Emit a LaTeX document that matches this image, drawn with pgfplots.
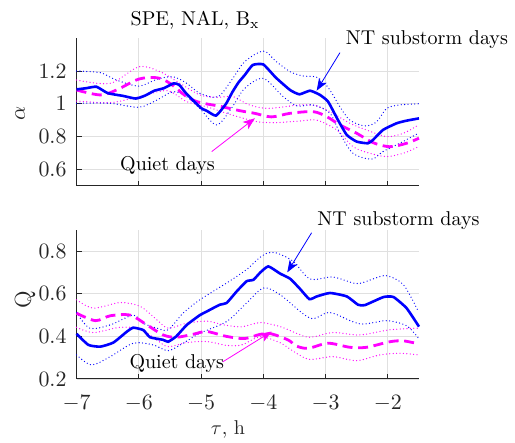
\documentclass[border=0pt]{standalone}
\usepackage{pgfplots}
\pgfplotsset{compat=1.18}
\usetikzlibrary{arrows.meta}
\definecolor{axgray}{gray}{0.15}
\definecolor{gridgray}{gray}{0.88}
\definecolor{mblue}{RGB}{0,0,255}
\definecolor{mmag}{RGB}{255,0,255}

\pgfplotstableread{
x y
-7.00 1.088
-6.85 1.095
-6.68 1.104
-6.50 1.065
-6.25 1.048
-6.05 1.032
-5.90 1.050
-5.75 1.080
-5.60 1.095
-5.44 1.125
-5.35 1.115
-5.25 1.068
-5.10 1.010
-5.00 0.974
-4.90 0.955
-4.76 0.928
-4.60 1.000
-4.50 1.070
-4.40 1.130
-4.30 1.175
-4.17 1.237
-4.00 1.240
-3.80 1.160
-3.57 1.084
-3.42 1.058
-3.25 1.080
-3.09 1.054
-2.96 1.013
-2.80 0.900
-2.66 0.810
-2.50 0.769
-2.32 0.759
-2.24 0.779
-2.08 0.840
-1.86 0.881
-1.70 0.897
-1.50 0.911
}\aNT
\pgfplotstableread{
x y
-7.00 1.200
-6.62 1.190
-6.36 1.145
-6.00 1.108
-5.71 1.150
-5.45 1.165
-5.23 1.125
-5.02 1.064
-4.73 1.043
-4.50 1.150
-4.30 1.257
-4.00 1.322
-3.80 1.260
-3.57 1.196
-3.36 1.170
-3.14 1.162
-2.96 1.100
-2.77 0.982
-2.61 0.900
-2.37 0.865
-2.18 0.890
-2.02 0.972
-1.81 0.993
-1.50 1.000
}\aNTup
\pgfplotstableread{
x y
-7.00 1.003
-6.46 1.003
-6.00 0.979
-5.71 1.023
-5.45 1.074
-5.23 1.043
-5.02 0.972
-4.75 0.871
-4.50 0.980
-4.30 1.094
-4.00 1.155
-3.68 1.043
-3.46 0.987
-3.20 0.993
-2.93 0.942
-2.77 0.820
-2.56 0.698
-2.26 0.662
-2.08 0.708
-1.81 0.759
-1.51 0.820
}\aNTlo
\pgfplotstableread{
x y
-7.00 1.084
-6.62 1.054
-6.36 1.084
-6.00 1.151
-5.71 1.159
-5.50 1.125
-5.23 1.043
-5.02 1.008
-4.70 0.985
-4.38 0.958
-4.14 0.942
-3.87 0.920
-3.57 0.942
-3.20 0.952
-2.98 0.921
-2.77 0.871
-2.50 0.820
-2.24 0.763
-1.97 0.738
-1.70 0.759
-1.50 0.790
}\aQ
\pgfplotstableread{
x y
-7.00 1.145
-6.46 1.125
-6.00 1.226
-5.66 1.196
-5.34 1.125
-5.02 1.054
-4.75 1.040
-4.48 1.043
-4.24 0.995
-3.92 0.972
-3.41 0.993
-3.14 0.987
-2.88 0.942
-2.61 0.881
-2.34 0.840
-2.02 0.800
-1.75 0.820
-1.51 0.871
}\aQup
\pgfplotstableread{
x y
-7.00 1.017
-6.46 1.007
-6.00 1.043
-5.55 1.080
-5.23 1.013
-4.91 0.982
-4.59 0.942
-4.21 0.900
-4.05 0.888
-3.79 0.885
-3.41 0.895
-3.14 0.900
-2.82 0.840
-2.56 0.738
-2.29 0.698
-2.02 0.678
-1.75 0.698
-1.51 0.738
}\aQlo
\pgfplotstableread{
x y
-7.00 0.412
-6.81 0.360
-6.62 0.352
-6.41 0.371
-6.19 0.423
-6.09 0.441
-5.93 0.430
-5.82 0.396
-5.61 0.384
-5.53 0.375
-5.40 0.400
-5.23 0.454
-5.02 0.500
-4.91 0.517
-4.70 0.549
-4.59 0.557
-4.43 0.611
-4.27 0.659
-4.16 0.666
-4.05 0.700
-3.92 0.729
-3.73 0.695
-3.57 0.671
-3.41 0.623
-3.26 0.575
-3.14 0.588
-2.93 0.604
-2.66 0.588
-2.48 0.549
-2.37 0.547
-2.07 0.585
-1.91 0.585
-1.70 0.533
-1.50 0.446
}\bNT
\pgfplotstableread{
x y
-7.00 0.512
-6.79 0.439
-6.46 0.454
-6.09 0.500
-5.93 0.462
-5.71 0.439
-5.53 0.431
-5.29 0.509
-5.02 0.572
-4.59 0.651
-4.27 0.714
-4.10 0.760
-3.95 0.790
-3.79 0.792
-3.52 0.753
-3.25 0.670
-2.88 0.679
-2.50 0.648
-2.24 0.670
-2.02 0.685
-1.75 0.643
-1.51 0.517
}\bNTup
\pgfplotstableread{
x y
-7.00 0.313
-6.76 0.266
-6.46 0.305
-6.09 0.368
-5.77 0.360
-5.53 0.333
-5.29 0.368
-5.02 0.415
-4.59 0.470
-4.27 0.557
-4.00 0.627
-3.73 0.596
-3.25 0.486
-2.93 0.512
-2.45 0.459
-2.02 0.474
-1.70 0.450
-1.51 0.392
}\bNTlo
\pgfplotstableread{
x y
-7.00 0.509
-6.70 0.474
-6.46 0.497
-6.14 0.500
-5.87 0.454
-5.61 0.407
-5.40 0.396
-5.13 0.410
-4.91 0.423
-4.59 0.400
-4.30 0.390
-4.05 0.410
-3.87 0.412
-3.60 0.383
-3.47 0.355
-3.28 0.344
-2.96 0.368
-2.61 0.349
-2.34 0.349
-1.97 0.375
-1.75 0.379
-1.51 0.365
}\bQ
\pgfplotstableread{
x y
-7.00 0.572
-6.73 0.533
-6.30 0.559
-5.98 0.541
-5.71 0.478
-5.53 0.439
-5.23 0.462
-4.91 0.472
-4.65 0.455
-4.35 0.445
-4.05 0.465
-3.73 0.446
-3.47 0.415
-3.25 0.396
-2.88 0.418
-2.45 0.407
-1.97 0.431
-1.51 0.439
}\bQup
\pgfplotstableread{
x y
-7.00 0.443
-6.73 0.418
-6.30 0.443
-5.98 0.434
-5.71 0.383
-5.53 0.352
-5.23 0.371
-4.91 0.376
-4.59 0.358
-4.35 0.360
-4.05 0.398
-3.73 0.370
-3.47 0.321
-3.25 0.292
-2.88 0.305
-2.50 0.286
-2.13 0.313
-1.81 0.321
-1.51 0.313
}\bQlo

\pgfplotsset{
  mystyle/.style={
    scale only axis, width=171.2pt,
    xmin=-7, xmax=-1.5,
    axis x line*=bottom, axis y line*=left,
    xtick={-7,-6,-5,-4,-3,-2},
    grid=major, grid style={gridgray, line width=0.4pt},
    tick align=inside,
    major tick length=2.5pt,
    axis line style={axgray, line width=0.5pt},
    tick style={axgray, line width=0.5pt},
    ticklabel style={color=axgray, font=\fontsize{10.5}{12}\selectfont},
    yticklabel style={xshift=-1.5pt},
    xticklabel style={yshift=-4.5pt},
    clip=false,
    anchor=south west,
  },
  ntmean/.style={mblue, line width=1.3pt, smooth, tension=0.3},
  ntband/.style={mblue, line width=0.65pt, line cap=round, dash pattern=on 0pt off 1.7pt, smooth, tension=0.5},
  qmean/.style={mmag, line width=1.4pt, dash pattern=on 5pt off 2.8pt, smooth, tension=0.5},
  qband/.style={mmag, line width=0.65pt, line cap=round, dash pattern=on 0pt off 1.7pt, smooth, tension=0.5},
}

\begin{document}
\begin{tikzpicture}
\useasboundingbox (0,0) rectangle (257.5pt,221.5pt);
\begin{axis}[mystyle,
  at={(38.3pt,128.65pt)}, height=73.7pt,
  ymin=0.5, ymax=1.4, ytick={0.6,0.8,1,1.2},
  xticklabels={},
  ylabel={$\alpha$},
  ylabel style={at={(axis description cs:-0.165,0.493)}, anchor=center, color=axgray, font=\fontsize{11}{13}\selectfont},
]
\addplot[qband] table {\aQup};
\addplot[qband] table {\aQlo};
\addplot[ntband] table {\aNTup};
\addplot[ntband] table {\aNTlo};
\addplot[qmean] table {\aQ};
\addplot[ntmean] table {\aNT};
\node[font=\fontsize{10}{12}\selectfont, anchor=base] at (axis description cs:0.346,1.09) {SPE, NAL, B$_{\mathrm{x}}$};
\node[font=\fontsize{10}{12}\selectfont] at (axis cs:-1.373,1.389) {NT substorm days};
\draw[mblue, line width=0.4pt, -{Stealth[length=6pt, width=4.5pt, inset=1.5pt]}] (axis cs:-2.77,1.312) -- (axis cs:-3.144,1.08);
\node[font=\fontsize{10}{12}\selectfont] at (axis cs:-5.54,0.621) {Quiet days};
\draw[mmag, line width=0.4pt, -{Stealth[length=6pt, width=4.5pt, inset=1.5pt]}] (axis cs:-4.83,0.708) -- (axis cs:-4.135,0.912);
\end{axis}

\begin{axis}[mystyle,
  at={(38.3pt,32pt)}, height=74.5pt,
  ymin=0.2, ymax=0.9, ytick={0.2,0.4,0.6,0.8},
  ylabel={Q},
  ylabel style={at={(axis description cs:-0.151,0.53)}, anchor=center, color=axgray, font=\fontsize{11.5}{13}\selectfont},
  xlabel={$\tau$, h},
  xlabel style={at={(axis description cs:0.442,-0.342)}, anchor=center, color=axgray, font=\fontsize{10}{12}\selectfont},
]
\addplot[qband] table {\bQup};
\addplot[qband] table {\bQlo};
\addplot[ntband] table {\bNTup};
\addplot[ntband] table {\bNTlo};
\addplot[qmean] table {\bQ};
\addplot[ntmean] table {\bNT};
\node[font=\fontsize{10}{12}\selectfont] at (axis cs:-1.83,0.942) {NT substorm days};
\draw[mblue, line width=0.4pt, -{Stealth[length=6pt, width=4.5pt, inset=1.5pt]}] (axis cs:-3.225,0.887) -- (axis cs:-3.616,0.701);
\node[font=\fontsize{10}{12}\selectfont] at (axis cs:-5.39,0.274) {Quiet days};
\draw[mmag, line width=0.4pt, -{Stealth[length=6pt, width=4.5pt, inset=1.5pt]}] (axis cs:-4.65,0.281) -- (axis cs:-3.867,0.423);
\end{axis}
\end{tikzpicture}
\end{document}
